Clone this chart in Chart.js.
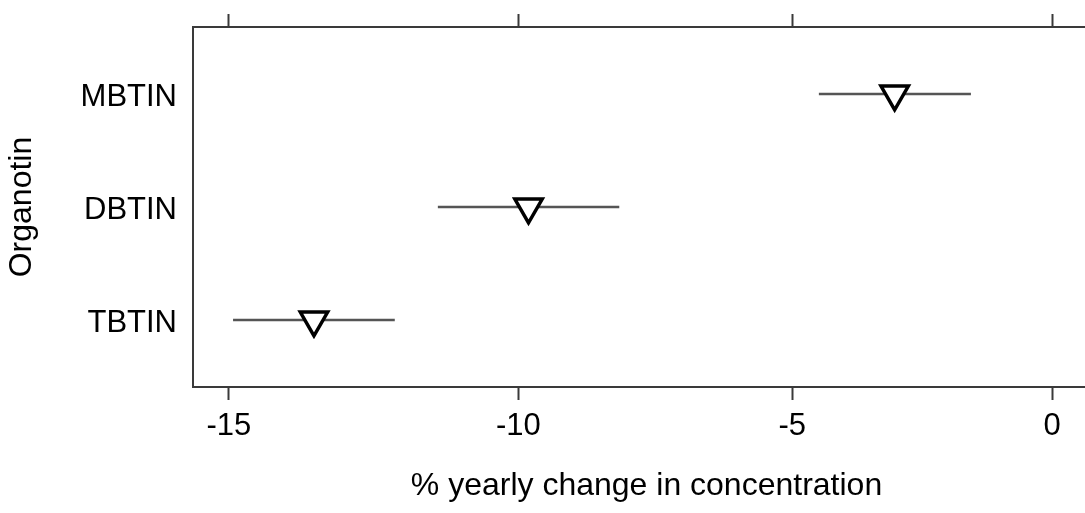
<!DOCTYPE html>
<html>
<head>
<meta charset="utf-8">
<script src="https://cdn.jsdelivr.net/npm/chart.js@4.4.1/dist/chart.umd.min.js"></script>
<style>
  html, body { margin: 0; padding: 0; background: #ffffff; overflow: hidden; width: 1085px; height: 513px; }
  #wrap { width: 1110px; height: 513px; }
</style>
</head>
<body>
<div id="wrap"><canvas id="c" width="1110" height="513"></canvas></div>
<script>
// ---- data ----
const categories = ['MBTIN', 'DBTIN', 'TBTIN'];
const estimate = [-3.06, -9.82, -13.56];   // % yearly change
const lower    = [-4.50, -11.42, -14.93];  // lower bound of interval
const upper    = [-1.59, -8.19, -12.17];   // upper bound of interval
const tickValues = [-15, -10, -5, 0];
const xLimits = [-15.6, 0.95];
const xTitle = '% yearly change in concentration';
const yTitle = 'Organotin';

// axis is log of (1 + %/100)
const toRatio = p => 1 + p / 100;

const FONT = "'Liberation Sans', Arial, Helvetica, sans-serif";
const AXIS = '#3a3a3a';

const barSets = categories.map((c, i) => ({
  label: c + ' interval',
  data: [{ x: toRatio(lower[i]), y: i + 1 }, { x: toRatio(upper[i]), y: i + 1 }],
  showLine: true,
  borderColor: '#555555',
  borderWidth: 2.6,
  pointRadius: 0,
  pointHoverRadius: 0,
  order: 2
}));

const pointSet = {
  label: 'estimate',
  data: categories.map((c, i) => ({ x: toRatio(estimate[i]), y: i + 1 })),
  pointStyle: 'triangle',
  rotation: 180,
  pointRadius: 15.8,
  pointHoverRadius: 15.8,
  borderWidth: 3.5,
  borderColor: '#000000',
  backgroundColor: '#ffffff',
  showLine: false,
  order: 1
};

const setTicks = s => { s.ticks = tickValues.map(v => ({ value: toRatio(v) })); };
const noPad = s => { s.paddingTop = 0; s.paddingBottom = 0; s.paddingLeft = 0; s.paddingRight = 0; };

new Chart(document.getElementById('c'), {
  type: 'scatter',
  data: { datasets: [pointSet, ...barSets] },
  options: {
    responsive: false,
    animation: false,
    events: [],
    layout: { autoPadding: false, padding: { left: 0, top: 0, bottom: 0, right: 10 } },
    plugins: { legend: { display: false }, tooltip: { enabled: false } },
    scales: {
      x: {
        type: 'logarithmic',
        position: 'bottom',
        bounds: 'data',
        min: toRatio(xLimits[0]),
        max: toRatio(xLimits[1]),
        afterBuildTicks: setTicks,
        afterFit: s => { s.height = 126; noPad(s); },
        ticks: {
          color: '#000',
          font: { family: FONT, size: 31 },
          padding: 8,
          maxRotation: 0,
          autoSkip: false,
          callback: v => String(Math.round((v - 1) * 100))
        },
        grid: { display: true, drawOnChartArea: false, drawTicks: true, tickLength: 13, tickWidth: 2, tickColor: AXIS },
        border: { display: true, color: AXIS, width: 2 },
        title: { display: true, text: xTitle, color: '#000', font: { family: FONT, size: 32 }, padding: { top: 0, bottom: 8 } }
      },
      x2: {
        type: 'logarithmic',
        position: 'top',
        bounds: 'data',
        min: toRatio(xLimits[0]),
        max: toRatio(xLimits[1]),
        afterBuildTicks: setTicks,
        afterFit: s => { s.height = 27; noPad(s); },
        ticks: { display: false },
        grid: { display: true, drawOnChartArea: false, drawTicks: true, tickLength: 13, tickWidth: 2, tickColor: AXIS },
        border: { display: true, color: AXIS, width: 2 }
      },
      y: {
        type: 'linear',
        position: 'left',
        reverse: true,
        min: 0.407,
        max: 3.593,
        afterBuildTicks: s => { s.ticks = categories.map((c, i) => ({ value: i + 1 })); },
        afterFit: s => { s.width = 193; noPad(s); },
        ticks: {
          color: '#000',
          font: { family: FONT, size: 31 },
          padding: 16,
          labelOffset: 3,
          callback: v => categories[Math.round(v) - 1] || ''
        },
        grid: { display: true, drawOnChartArea: false, drawTicks: false },
        border: { display: true, color: AXIS, width: 2 },
        title: { display: true, text: yTitle, color: '#000', font: { family: FONT, size: 32 }, padding: { top: 2.5, bottom: 0 } }
      }
    }
  }
});
</script>
</body>
</html>
